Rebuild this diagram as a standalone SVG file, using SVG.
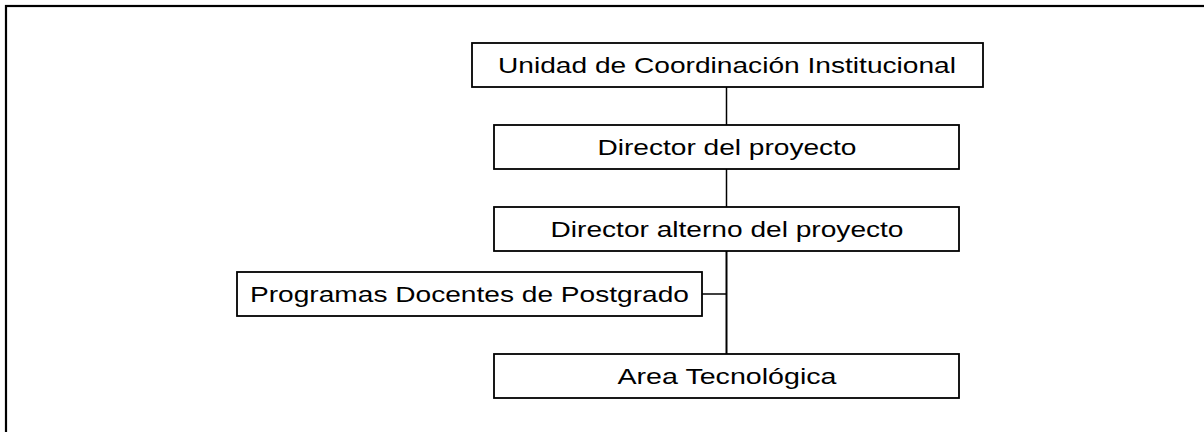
<svg xmlns="http://www.w3.org/2000/svg" width="1204" height="432" viewBox="0 0 1204 432">
<style>
.box{fill:#fff;stroke:#000;stroke-width:1.8}
.lbl{font-family:"Liberation Sans",Arial,sans-serif;font-size:22px;fill:#000;text-anchor:middle}
.con{stroke:#000;fill:none}
</style>
<rect x="0" y="0" width="1204" height="432" fill="#fff"/>
<rect x="6" y="6" width="1400" height="600" fill="none" stroke="#000" stroke-width="2.2"/>
<g id="connectors">
<line class="con" x1="726.5" y1="87" x2="726.5" y2="125" stroke-width="1.5"/>
<line class="con" x1="726.5" y1="169" x2="726.5" y2="207" stroke-width="1.5"/>
<line class="con" x1="726.5" y1="251" x2="726.5" y2="354" stroke-width="2"/>
<line class="con" x1="702" y1="294" x2="726.5" y2="294" stroke-width="1.5"/>
</g>
<g id="n1">
<rect class="box" x="472" y="43" width="511" height="44"/>
<text class="lbl" x="727" y="73" textLength="458" lengthAdjust="spacingAndGlyphs">Unidad de Coordinación Institucional</text>
</g>
<g id="n2">
<rect class="box" x="494" y="125" width="465" height="44"/>
<text class="lbl" x="727" y="155" textLength="259" lengthAdjust="spacingAndGlyphs">Director del proyecto</text>
</g>
<g id="n3">
<rect class="box" x="494" y="207" width="465" height="44"/>
<text class="lbl" x="727" y="237" textLength="353" lengthAdjust="spacingAndGlyphs">Director alterno del proyecto</text>
</g>
<g id="n4">
<rect class="box" x="237" y="272" width="465" height="44"/>
<text class="lbl" x="469.5" y="302" textLength="439" lengthAdjust="spacingAndGlyphs">Programas Docentes de Postgrado</text>
</g>
<g id="n5">
<rect class="box" x="494" y="354" width="465" height="44"/>
<text class="lbl" x="727" y="384" textLength="219" lengthAdjust="spacingAndGlyphs">Area Tecnológica</text>
</g>
</svg>
